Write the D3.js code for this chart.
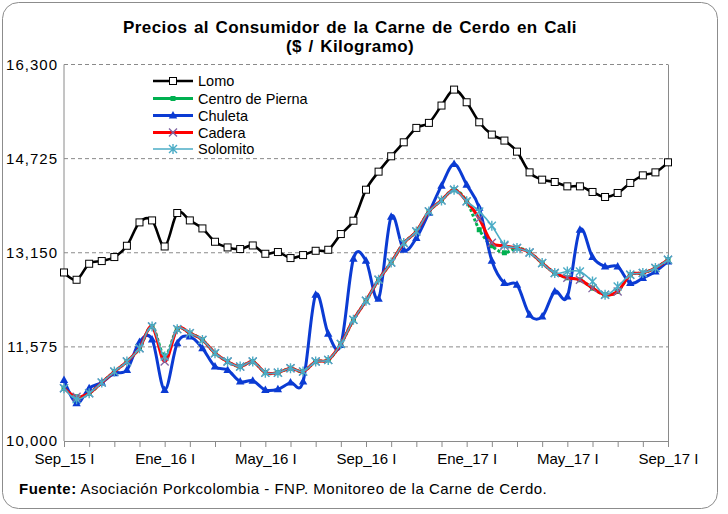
<!DOCTYPE html>
<html><head><meta charset="utf-8">
<script src="https://cdn.jsdelivr.net/npm/d3@7"></script>
<style>body{margin:0;background:#fff}svg{display:block;font-family:"Liberation Sans",Arial,sans-serif}</style>
</head><body>
<svg id="c" width="728" height="514"></svg>
<script>
const categories = [
"Sep_15 I","Sep_15 II","Oct_15 I","Oct_15 II","Nov_15 I","Nov_15 II","Dic_15 I","Dic_15 II",
"Ene_16 I","Ene_16 II","Feb_16 I","Feb_16 II","Mar_16 I","Mar_16 II","Abr_16 I","Abr_16 II",
"May_16 I","May_16 II","Jun_16 I","Jun_16 II","Jul_16 I","Jul_16 II","Ago_16 I","Ago_16 II",
"Sep_16 I","Sep_16 II","Oct_16 I","Oct_16 II","Nov_16 I","Nov_16 II","Dic_16 I","Dic_16 II",
"Ene_17 I","Ene_17 II","Feb_17 I","Feb_17 II","Mar_17 I","Mar_17 II","Abr_17 I","Abr_17 II",
"May_17 I","May_17 II","Jun_17 I","Jun_17 II","Jul_17 I","Jul_17 II","Ago_17 I","Ago_17 II",
"Sep_17 I"];
const labeledCategories = ["Sep_15 I","Ene_16 I","May_16 I","Sep_16 I","Ene_17 I","May_17 I","Sep_17 I"];
const yTicks = [10000, 11575, 13150, 14725, 16300];

const lomo = [12820,12698,12966,13011,13078,13267,13658,13691,13255,13815,
  13691,13557,13334,13239,13212,13272,13133,13162,13061,13111,
  13183,13200,13463,13686,14205,14507,14764,14998,15239,15323,
  15613,15880,15668,15333,15127,15027,14842,14495,14373,14334,
  14261,14261,14167,14083,14150,14318,14445,14495,14663];
const centroPierna = [10883,10740,10799,10977,11161,11329,11553,11915,11420,11872,
  11805,11692,11469,11329,11245,11329,11144,11144,11218,11161,
  11329,11357,11625,12027,12346,12698,12987,13312,13507,13842,
  14026,14205,14010,13535,13267,13150,13229,13155,12977,12810,
  12731,12698,12558,12446,12502,12781,12810,12894,13033];
const chuleta = [11022,10632,10883,10977,11134,11190,11658,11700,10854,11637,
  11748,11553,11245,11190,10994,11010,10854,10866,10977,10994,
  12446,11793,11608,13049,13016,12379,13753,13200,13396,13820,
  14273,14633,14289,13904,13016,12642,12614,12111,12083,12502,
  12418,13535,13078,12920,12920,12642,12726,12837,13004];
const cadera = [10883,10740,10799,10977,11161,11329,11553,11915,11330,11872,
  11805,11692,11469,11329,11245,11329,11144,11144,11218,11161,
  11329,11357,11625,12027,12346,12698,12987,13312,13507,13842,
  14026,14205,14010,13720,13317,13267,13229,13155,12977,12810,
  12731,12698,12558,12446,12502,12781,12810,12894,13033];
const solomito = [10883,10699,10799,10977,11161,11329,11553,11915,11412,11872,
  11805,11692,11469,11329,11245,11329,11144,11144,11218,11161,
  11329,11357,11625,12027,12346,12698,12987,13312,13507,13842,
  14026,14205,14010,13842,13602,13284,13229,13155,12977,12810,
  12837,12837,12669,12446,12585,12781,12810,12894,13033];

const svg = d3.select("#c");
const L = 64, R = 668, T = 64.5, B = 441;
const x = d3.scalePoint().domain(categories).range([L, R]).padding(0);
const y = d3.scaleLinear().domain([10000, 16300]).range([B, T]);

// outer border
svg.append("rect").attr("x",2.5).attr("y",2.5).attr("width",715).attr("height",506)
  .attr("rx",16).attr("fill","#fff").attr("stroke","#8c8c8c").attr("stroke-width",1);

// gridlines
svg.append("g").selectAll("line").data(yTicks.filter(d=>d>10000)).join("line")
  .attr("x1",L).attr("x2",R).attr("y1",d=>y(d)).attr("y2",d=>y(d))
  .attr("stroke","#8a8a8a").attr("stroke-dasharray","4,3").attr("stroke-width",1);
svg.append("line").attr("x1",R+0.5).attr("x2",R+0.5).attr("y1",T).attr("y2",B)
  .attr("stroke","#8a8a8a");

// y labels
svg.append("g").selectAll("text").data(yTicks).join("text")
  .attr("x",58).attr("y",d=>y(d)).attr("dy","0.35em").attr("text-anchor","end")
  .attr("font-size",15).attr("letter-spacing",1).attr("fill","#000").text(d=>d3.format(",")(d));

// x axis
const tickCats = categories.filter((d,i)=>i%2===0);
const xAxis = d3.axisBottom(x).tickValues(tickCats).tickSize(6).tickSizeOuter(0)
  .tickFormat(d=>labeledCategories.includes(d)?d:"");
const gx = svg.append("g").attr("transform",`translate(0,${B})`).call(xAxis);
gx.select(".domain").attr("stroke","#8a8a8a");
gx.selectAll(".tick line").attr("stroke","#8a8a8a");
gx.selectAll(".tick text").attr("font-size",15).attr("fill","#000").attr("dy","0.9em")
  .attr("font-family","Liberation Sans, Arial, sans-serif");
svg.append("line").attr("x1",L).attr("x2",L).attr("y1",T).attr("y2",B).attr("stroke","#8a8a8a");

const curve = d3.curveCardinal.tension(0);
const line = d3.line().x((d,i)=>x(categories[i])).y(d=>y(d)).curve(curve);
const plot = svg.append("g");

function drawLine(data, color, w, dash){
  const p = plot.append("path").attr("d", line(data)).attr("fill","none")
    .attr("stroke",color).attr("stroke-width",w).attr("stroke-linejoin","round");
  if(dash) p.attr("stroke-dasharray",dash);
}
const marker = {
  square:(g,c)=>g.append("rect").attr("x",-3.5).attr("y",-3.5).attr("width",7).attr("height",7).attr("fill","#fff").attr("stroke","#000").attr("stroke-width",1),
  smallsq:(g,c)=>g.append("rect").attr("x",-2.5).attr("y",-2.5).attr("width",5).attr("height",5).attr("fill",c),
  tri:(g,c)=>g.append("path").attr("d","M0,-4.5L4.2,3L-4.2,3Z").attr("fill",c),
  x:(g,c)=>g.append("path").attr("d","M-4,-4L4,4M-4,4L4,-4").attr("stroke",c).attr("stroke-width",1.3),
  star:(g,c)=>g.append("path").attr("d","M-4,-4L4,4M-4,4L4,-4M0,-5L0,5").attr("stroke",c).attr("stroke-width",1.4)
};
function drawMarkers(data, type, color){
  const g = plot.append("g");
  data.forEach((v,i)=>{
    const m = g.append("g").attr("transform",`translate(${x(categories[i])},${y(v)})`);
    marker[type](m,color);
  });
}

drawLine(lomo,"#000",2.6); drawMarkers(lomo,"square","#000");
drawLine(centroPierna,"#00B050",3,"3,2"); drawMarkers(centroPierna,"smallsq","#00B050");
drawLine(chuleta,"#0B3BD3",3); drawMarkers(chuleta,"tri","#0B3BD3");
drawLine(cadera,"#FF0000",3); drawMarkers(cadera,"x","#8064A2");
drawLine(solomito,"#4BACC6",1.6); drawMarkers(solomito,"star","#4BACC6");

// legend
const legendItems = [
  {name:"Lomo", color:"#000", w:2.6, m:"square", mc:"#000"},
  {name:"Centro de Pierna", color:"#00B050", w:3, m:"smallsq", mc:"#00B050"},
  {name:"Chuleta", color:"#0B3BD3", w:3, m:"tri", mc:"#0B3BD3"},
  {name:"Cadera", color:"#FF0000", w:3, m:"x", mc:"#8064A2"},
  {name:"Solomito", color:"#4BACC6", w:1.6, m:"star", mc:"#4BACC6"}
];
const legY = [81, 98.5, 115.5, 132.5, 149];
const lg = svg.append("g");
legendItems.forEach((it,i)=>{
  const gy = legY[i];
  lg.append("line").attr("x1",153).attr("x2",193).attr("y1",gy).attr("y2",gy)
    .attr("stroke",it.color).attr("stroke-width",it.w);
  const m = lg.append("g").attr("transform",`translate(173,${gy})`);
  marker[it.m](m,it.mc);
  lg.append("text").attr("x",198).attr("y",gy).attr("dy","0.35em").attr("font-size",14.5)
    .attr("fill","#000").text(it.name);
});

// title
svg.append("text").attr("x",350).attr("y",33).attr("text-anchor","middle")
  .attr("font-size",17).attr("font-weight","bold").attr("letter-spacing",0.4).attr("word-spacing",1.5)
  .text("Precios al Consumidor de la Carne de Cerdo en Cali");
svg.append("text").attr("x",350).attr("y",52).attr("text-anchor","middle")
  .attr("font-size",17).attr("font-weight","bold").attr("letter-spacing",0.4).attr("word-spacing",1.5)
  .text("($ / Kilogramo)");

// footer
const ft = svg.append("text").attr("x",19).attr("y",494).attr("font-size",15)
  .attr("letter-spacing",0.5).attr("fill","#000");
ft.append("tspan").attr("font-weight","bold").text("Fuente:");
ft.append("tspan").text(" Asociación Porkcolombia - FNP.  Monitoreo de la Carne de Cerdo.");
</script>
</body></html>
